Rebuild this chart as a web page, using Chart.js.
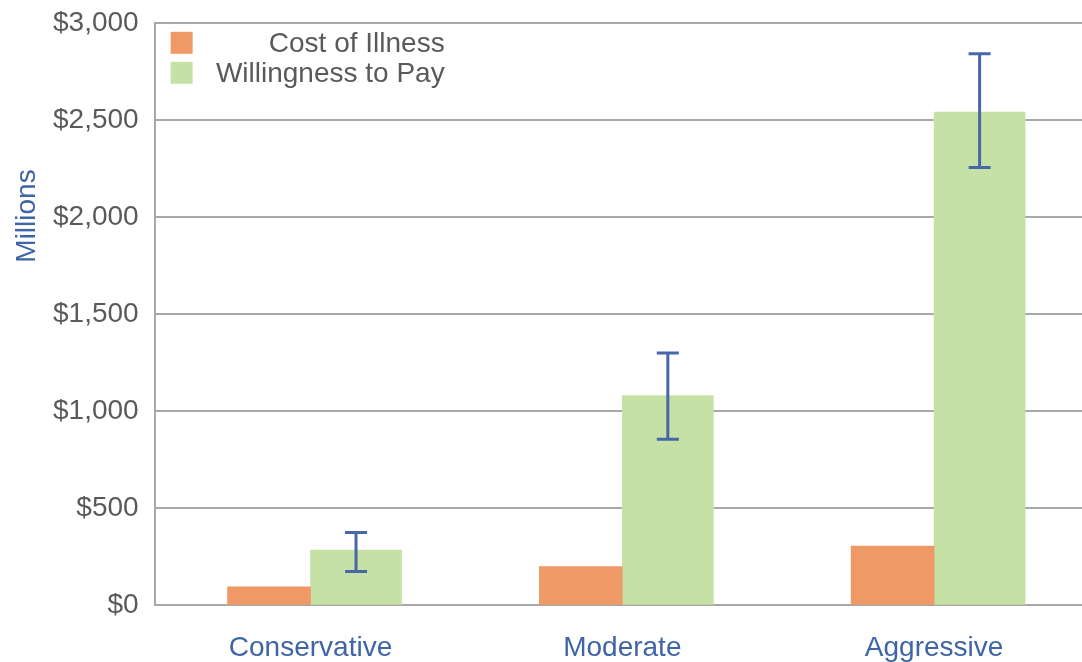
<!DOCTYPE html>
<html>
<head>
<meta charset="utf-8">
<script src="https://cdn.jsdelivr.net/npm/chart.js@4/dist/chart.umd.min.js"></script>
<style>
  html, body { margin: 0; padding: 0; background: #fff; overflow: hidden; }
  #wrap { width: 1092px; height: 693px; margin-top: -10px; position: relative; }
</style>
</head>
<body>
<div id="wrap"><canvas id="myChart"></canvas></div>
<script>
// Data (millions of dollars)
const categories = ['Conservative', 'Moderate', 'Aggressive'];
const costOfIllness = [95, 200, 305];
const willingnessToPay = [285, 1080, 2540];
const wtpLow = [175, 855, 2255];
const wtpHigh = [375, 1300, 2840];
const yTicks = [0, 500, 1000, 1500, 2000, 2500, 3000];

const ORANGE = '#EF9967';
const GREEN = '#C5E1A5';
const BLUE = '#3F65A6';
const GREY_TEXT = '#5A5A5A';
const GRID = '#A8A8A8';

// error bars on the green series
const errorBars = {
    id: 'errorBars',
    afterDatasetsDraw(chart) {
        const ctx = chart.ctx;
        const y = chart.scales.y;
        const meta = chart.getDatasetMeta(1);
        ctx.save();
        ctx.strokeStyle = '#4867A8';
        ctx.lineWidth = 3;
        meta.data.forEach((bar, i) => {
            const top = y.getPixelForValue(wtpHigh[i]);
            const bot = y.getPixelForValue(wtpLow[i]);
            ctx.beginPath();
            ctx.moveTo(bar.x, top);
            ctx.lineTo(bar.x, bot);
            ctx.moveTo(bar.x - 11, top);
            ctx.lineTo(bar.x + 11, top);
            ctx.moveTo(bar.x - 11, bot);
            ctx.lineTo(bar.x + 11, bot);
            ctx.stroke();
        });
        ctx.restore();
    }
};

// legend in the top left corner of the plot, text right aligned
const cornerLegend = {
    id: 'cornerLegend',
    afterDraw(chart) {
        const ctx = chart.ctx;
        const area = chart.chartArea;
        const x0 = area.left + 16;
        const right = area.left + 290;
        ctx.save();
        ctx.font = '28px "Liberation Sans", Arial, sans-serif';
        ctx.textAlign = 'right';
        ctx.textBaseline = 'middle';
        chart.data.datasets.forEach((ds, i) => {
            const cy = area.top + 20 + i * 30;
            ctx.fillStyle = ds.backgroundColor;
            ctx.fillRect(x0, cy - 11, 22, 22);
            ctx.fillStyle = GREY_TEXT;
            ctx.fillText(ds.label, right, cy + 1);
        });
        ctx.restore();
    }
};

// rotated y title, sitting a bit above the middle
const yTitle = {
    id: 'yTitle',
    afterDraw(chart) {
        const ctx = chart.ctx;
        ctx.save();
        ctx.translate(27, 226);
        ctx.rotate(-Math.PI / 2);
        ctx.font = '28px "Liberation Sans", Arial, sans-serif';
        ctx.fillStyle = BLUE;
        ctx.textAlign = 'center';
        ctx.textBaseline = 'middle';
        ctx.fillText('Millions', 0, 0);
        ctx.restore();
    }
};

const ctx = document.getElementById('myChart');
const myChart = new Chart(ctx, {
    type: 'bar',
    data: {
        labels: categories,
        datasets: [{
            label: 'Cost of Illness',
            data: costOfIllness,
            backgroundColor: ORANGE,
            barThickness: 83
        }, {
            label: 'Willingness to Pay',
            data: willingnessToPay,
            backgroundColor: GREEN,
            barThickness: 91
        }]
    },
    options: {
        responsive: true,
        maintainAspectRatio: false,
        animation: false,
        layout: { padding: { left: 37, top: 0, right: 2, bottom: 0 } },
        plugins: {
            legend: { display: false },
            tooltip: { enabled: false }
        },
        scales: {
            x: {
                grid: { display: false },
                border: { display: false },
                ticks: {
                    color: BLUE,
                    font: { family: '"Liberation Sans", Arial, sans-serif', size: 28 },
                    padding: 18
                }
            },
            y: {
                min: 0,
                max: 3000,
                afterBuildTicks: axis => { axis.ticks = yTicks.map(v => ({ value: v })); },
                grid: { color: GRID, lineWidth: 2, drawTicks: false },
                border: { display: true, color: GRID, width: 2 },
                ticks: {
                    color: GREY_TEXT,
                    padding: 16,
                    font: { family: '"Liberation Sans", Arial, sans-serif', size: 28 },
                    callback: v => '$' + v.toLocaleString('en-US')
                }
            }
        }
    },
    plugins: [errorBars, cornerLegend, yTitle]
});
</script>
</body>
</html>
